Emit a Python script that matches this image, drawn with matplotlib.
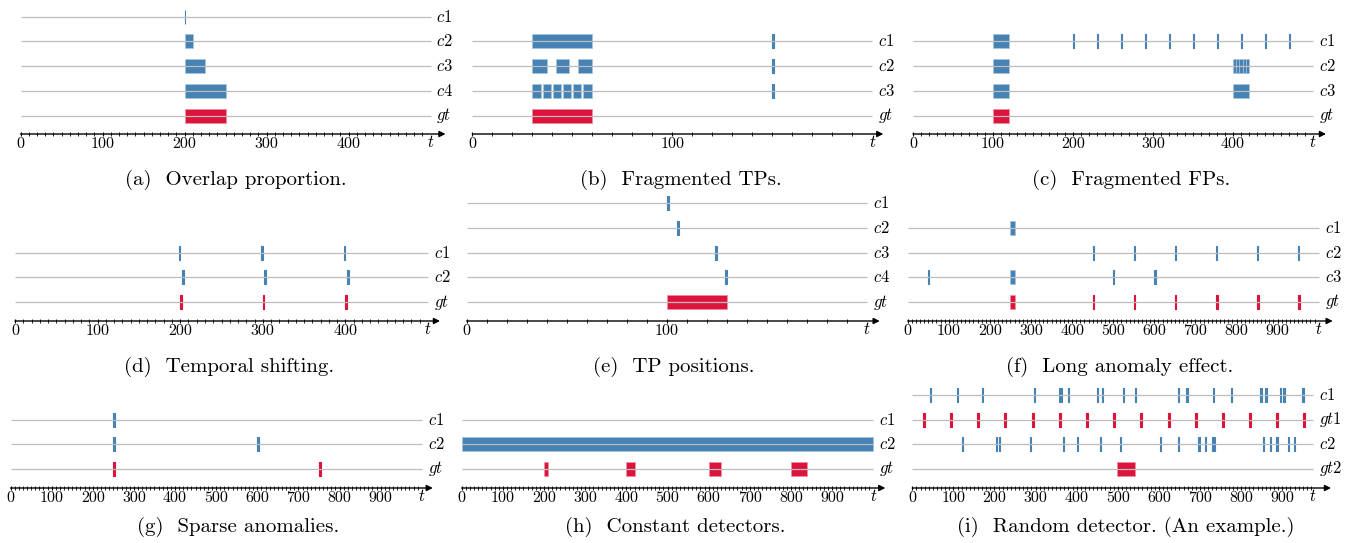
import matplotlib
matplotlib.use('Agg')

import matplotlib.pyplot as plt
import numpy as np

plt.rcParams['font.family'] = 'cmr10'
plt.rcParams['mathtext.fontset'] = 'cm'
plt.rcParams['axes.formatter.use_mathtext'] = True

W, H = 1348, 543
BLUE, RED = '#4682b4', '#dc143c'
BLUE_EDGE, RED_EDGE = '#a6c3dc', '#ee8fa2'
ROW = 24.7          # row spacing in px
BAR = 14            # bar height in px

# ---- data: segments as (start, length) ----
# (a) overlap proportion
a_c1 = [(200, 1)]
a_c2 = [(200, 10)]
a_c3 = [(200, 25)]
a_c4 = [(200, 50)]
a_gt = [(200, 50)]

# (b) fragmented TPs
b_c1 = [(30, 30), (150, 1)]
b_c2 = [(30, 7.5), (42, 6.5), (53, 7), (150, 1)]
b_c3 = [(30, 4.5), (35.5, 4), (40.5, 4), (45.5, 4), (50.5, 4), (55.5, 4.5), (150, 1)]
b_gt = [(30, 30)]

# (c) fragmented FPs
c_c1 = [(100, 20), (200, 1.5), (230, 1.5), (260, 1.5), (290, 1.5), (320, 1.5),
        (350, 1.5), (380, 1.5), (410, 1.5), (440, 1.5), (470, 1.5)]
c_c2 = [(100, 20), (400, 4), (404, 4), (408, 4), (412, 4), (416, 4)]
c_c3 = [(100, 20), (400, 20)]
c_gt = [(100, 20)]

# (d) temporal shifting
d_c1 = [(198, 2), (298, 2), (398, 2)]
d_c2 = [(202, 2), (302, 2), (402, 2)]
d_gt = [(200, 2), (300, 2), (400, 2)]

# (e) TP positions
e_c1 = [(100, 1)]
e_c2 = [(105, 1)]
e_c3 = [(124, 1)]
e_c4 = [(129, 1)]
e_gt = [(100, 30)]

# (f) long anomaly effect
f_c1 = [(250, 10)]
f_c2 = [(450, 3), (550, 3), (650, 3), (750, 3), (850, 3), (950, 3)]
f_c3 = [(50, 3), (250, 10), (500, 3), (600, 3)]
f_gt = [(250, 10), (450, 4), (550, 4), (650, 4), (750, 4), (850, 4), (950, 4)]

# (g) sparse anomalies
g_c1 = [(250, 3)]
g_c2 = [(250, 3), (600, 3)]
g_gt = [(250, 4), (750, 4)]

# (h) constant detectors
h_c1 = []
h_c2 = [(0, 1000)]
h_gt = [(200, 10), (400, 20), (600, 30), (800, 40)]

# (i) random detector
i_c1_starts = [42, 109, 170, 295, 356, 362, 378, 449, 461, 513, 542, 647, 667,
               732, 775, 847, 859, 895, 903, 949]
i_gt1_starts = [25, 91, 158, 224, 291, 357, 423, 489, 554, 621, 687, 753, 819, 885, 951]
i_c2_starts = [121, 204, 210, 287, 366, 401, 457, 506, 603, 647, 696, 712, 728,
               731, 734, 853, 870, 886, 914, 929]
i_c1 = [(s, 3) for s in i_c1_starts]
i_gt1 = [(s, 5) for s in i_gt1_starts]
i_c2 = [(s, 3) for s in i_c2_starts]
i_gt2 = [(497, 45)]

captions = ['(a)  Overlap proportion.', '(b)  Fragmented TPs.', '(c)  Fragmented FPs.',
            '(d)  Temporal shifting.', '(e)  TP positions.', '(f)  Long anomaly effect.',
            '(g)  Sparse anomalies.', '(h)  Constant detectors.',
            '(i)  Random detector. (An example.)']

fig = plt.figure(figsize=(W / 100, H / 100), dpi=100)


def draw_panel(rows, x0, scale, xmax, gt_y, axis_y, tip=13):
    """rows: list of (label, segments, color), top to bottom; coords in px"""
    n = len(rows)
    top_y = gt_y - (n - 1) * ROW - BAR
    width = xmax * scale + tip
    ax = fig.add_axes([x0 / W, 1 - axis_y / H, width / W, (axis_y - top_y) / H])
    hi = xmax + tip / scale
    ax.set_xlim(0, hi)
    ax.set_ylim(axis_y, top_y)
    for s in ax.spines.values():
        s.set_visible(False)

    for k, (lab, segs, col) in enumerate(rows):
        y = gt_y - (n - 1 - k) * ROW
        light = RED_EDGE if col == RED else BLUE_EDGE
        # thin spikes keep their full colour, wider blocks get a pale outline
        wide = [sg for sg in segs if sg[1] * scale >= 3]
        thin = [sg for sg in segs if sg[1] * scale < 3]
        if wide:
            ax.broken_barh(wide, (y - BAR / 2, BAR), facecolors=col,
                           edgecolors=light, linewidth=0.5, zorder=2)
        if thin:
            ax.broken_barh(thin, (y - BAR / 2, BAR), facecolors=col,
                           edgecolors=col, linewidth=0.8, zorder=2)
        ax.hlines(y, 0, xmax, color='#bdbdbd', lw=0.9, zorder=3)
        ax.text(xmax + 6 / scale, y, '$%s$' % lab, ha='left', va='center',
                fontsize=12, clip_on=False)

    # time axis with arrow
    ax.annotate('', xy=(hi, axis_y), xytext=(0, axis_y),
                arrowprops=dict(arrowstyle='-|>', lw=1.0, color='black',
                                mutation_scale=9, shrinkA=0, shrinkB=0),
                annotation_clip=False)
    last = xmax - 1 if xmax % 100 == 0 else xmax
    major = np.arange(0, last, 100)
    ax.set_xticks(major)
    ax.set_xticklabels([str(int(m)) for m in major])
    ax.set_xticks(np.arange(10, xmax, 10), minor=True)
    ax.tick_params(which='major', direction='inout', length=3.5, width=0.8,
                   labelsize=11.5, pad=0.3)
    ax.tick_params(which='minor', direction='inout', length=2.2, width=0.6)
    ax.set_yticks([])
    ax.text(xmax, axis_y + 8, '$t$', ha='center', va='center', fontsize=12,
            clip_on=False)
    return ax


# row 1
draw_panel([('c1', a_c1, BLUE), ('c2', a_c2, BLUE), ('c3', a_c3, BLUE),
            ('c4', a_c4, BLUE), ('gt', a_gt, RED)], 20.5, 0.82, 500, 115.5, 134, tip=15)
draw_panel([('c1', b_c1, BLUE), ('c2', b_c2, BLUE), ('c3', b_c3, BLUE),
            ('gt', b_gt, RED)], 472.3, 2.0, 200, 115.5, 134, tip=11)
draw_panel([('c1', c_c1, BLUE), ('c2', c_c2, BLUE), ('c3', c_c3, BLUE),
            ('gt', c_gt, RED)], 913, 0.8, 500, 115.5, 134, tip=13)
# row 2
draw_panel([('c1', d_c1, BLUE), ('c2', d_c2, BLUE), ('gt', d_gt, RED)],
           15, 0.826, 500, 302, 321, tip=12)
draw_panel([('c1', e_c1, BLUE), ('c2', e_c2, BLUE), ('c3', e_c3, BLUE),
            ('c4', e_c4, BLUE), ('gt', e_gt, RED)], 466.7, 2.0, 200, 302, 321, tip=13)
draw_panel([('c1', f_c1, BLUE), ('c2', f_c2, BLUE), ('c3', f_c3, BLUE),
            ('gt', f_gt, RED)], 907.7, 0.411, 1000, 302, 321, tip=14)
# row 3
draw_panel([('c1', g_c1, BLUE), ('c2', g_c2, BLUE), ('gt', g_gt, RED)],
           10.5, 0.4113, 1000, 469, 488, tip=11)
draw_panel([('c1', h_c1, BLUE), ('c2', h_c2, BLUE), ('gt', h_gt, RED)],
           461.7, 0.4116, 1000, 469, 488, tip=12)
draw_panel([('c1', i_c1, BLUE), ('gt1', i_gt1, RED), ('c2', i_c2, BLUE),
            ('gt2', i_gt2, RED)], 912.3, 0.411, 975, 469, 488, tip=18)

cap_x = [235.5, 680.5, 1130.8, 228.8, 674, 1120, 238.3, 675, 1125.8]
cap_y = [180, 180, 180, 367, 367, 367, 527, 527, 527]
for txt, cx, cy in zip(captions, cap_x, cap_y):
    fig.text(cx / W, 1 - cy / H, txt, ha='center', va='center', fontsize=15)

fig.savefig('out.png', dpi=100)
